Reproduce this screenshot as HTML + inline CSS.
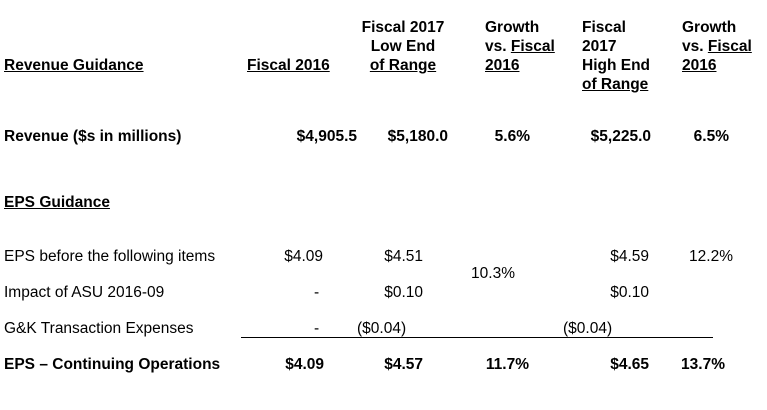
<!DOCTYPE html>
<html><head><style>
body{margin:0;width:767px;height:410px;background:#fff;position:relative;overflow:hidden;font-family:"Liberation Sans",Arial,sans-serif;font-size:15.5px;color:#000}
.t{position:absolute;line-height:19px;white-space:nowrap}
.b{font-weight:bold}
.u{text-decoration:underline}
.r{text-align:right}
.c{text-align:center}
</style></head><body>
<div class="t b u" style="left:4px;top:56px">Revenue Guidance</div>
<div class="t b u" style="left:247px;top:56px">Fiscal 2016</div>
<div class="t b c" style="left:353px;width:100px;top:18px">Fiscal 2017<br>Low End<br><span class="u">of Range</span></div>
<div class="t b" style="left:485px;top:18px">Growth<br>vs. <span class="u">Fiscal</span><br><span class="u">2016</span></div>
<div class="t b" style="left:582px;top:18px">Fiscal<br>2017<br>High End<br><span class="u">of Range</span></div>
<div class="t b" style="left:682px;top:18px">Growth<br>vs. <span class="u">Fiscal</span><br><span class="u">2016</span></div>

<div class="t b" style="left:4px;top:127px">Revenue ($s in millions)</div>
<div class="t b r" style="right:410px;top:127px">$4,905.5</div>
<div class="t b r" style="right:319px;top:127px">$5,180.0</div>
<div class="t b r" style="right:237px;top:127px">5.6%</div>
<div class="t b r" style="right:116px;top:127px">$5,225.0</div>
<div class="t b r" style="right:38px;top:127px">6.5%</div>

<div class="t b u" style="left:4px;top:193px">EPS Guidance</div>

<div class="t" style="left:4px;top:247px">EPS before the following items</div>
<div class="t r" style="right:444px;top:247px">$4.09</div>
<div class="t r" style="right:344px;top:247px">$4.51</div>
<div class="t r" style="right:252px;top:264px">10.3%</div>
<div class="t r" style="right:118px;top:247px">$4.59</div>
<div class="t r" style="right:34px;top:247px">12.2%</div>

<div class="t" style="left:4px;top:283px">Impact of ASU 2016-09</div>
<div class="t" style="left:314px;top:283px">-</div>
<div class="t r" style="right:344px;top:283px">$0.10</div>
<div class="t r" style="right:118px;top:283px">$0.10</div>

<div class="t" style="left:4px;top:319px">G&amp;K Transaction Expenses</div>
<div class="t" style="left:314px;top:319px">-</div>
<div class="t" style="left:357px;top:319px">($0.04)</div>
<div class="t" style="left:563px;top:319px">($0.04)</div>
<div style="position:absolute;left:241px;top:337px;width:472px;height:1px;background:#000"></div>

<div class="t b" style="left:4px;top:355px">EPS – Continuing Operations</div>
<div class="t b r" style="right:443px;top:355px">$4.09</div>
<div class="t b r" style="right:344px;top:355px">$4.57</div>
<div class="t b r" style="right:238px;top:355px">11.7%</div>
<div class="t b r" style="right:118px;top:355px">$4.65</div>
<div class="t b r" style="right:42px;top:355px">13.7%</div>
</body></html>
